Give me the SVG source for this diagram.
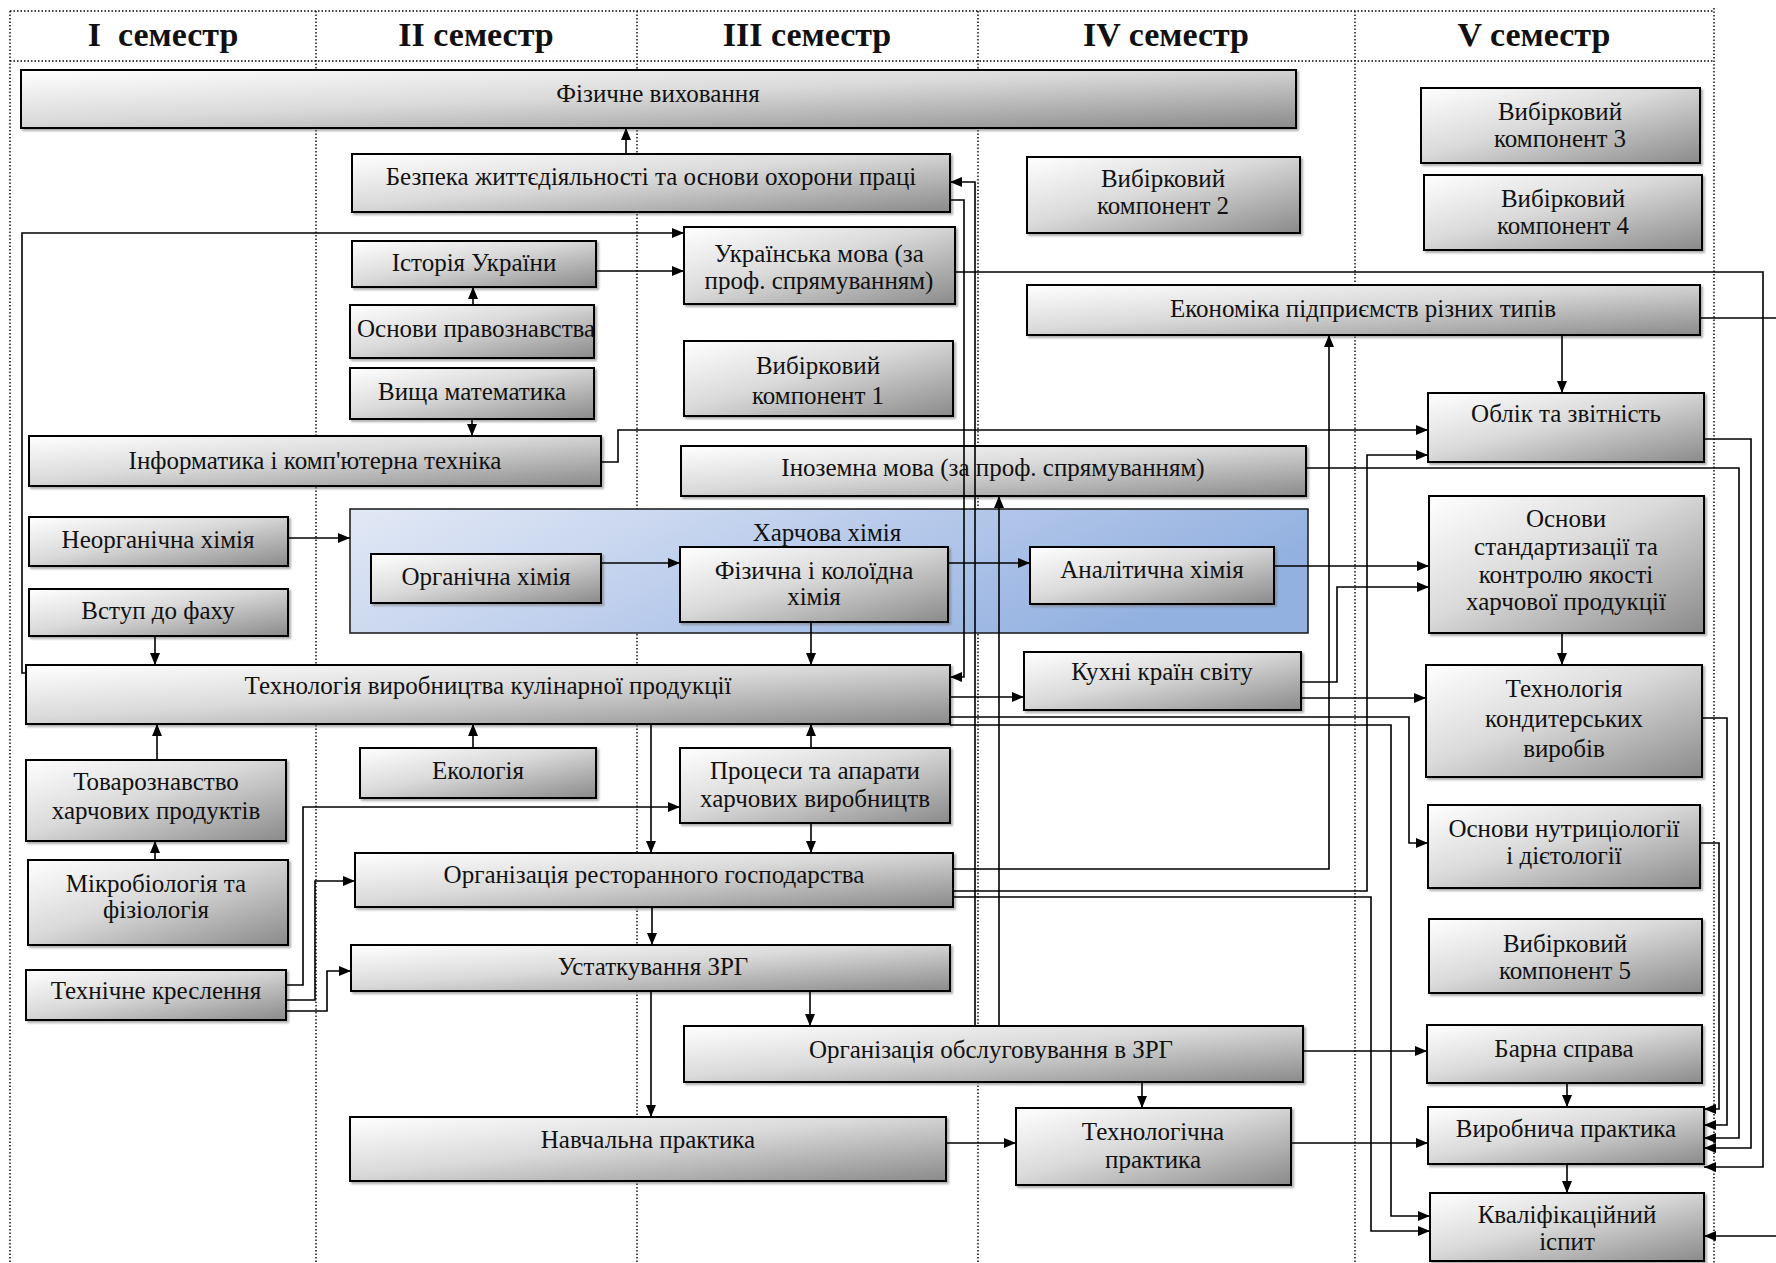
<svg xmlns="http://www.w3.org/2000/svg" width="1776" height="1263" viewBox="0 0 1776 1263">
<defs>
<linearGradient id="gr" x1="0" y1="0" x2="1" y2="1">
<stop offset="0" stop-color="#ffffff"/>
<stop offset="0.45" stop-color="#dadada"/>
<stop offset="1" stop-color="#8a8a8a"/>
</linearGradient>
<linearGradient id="gb" x1="0" y1="0" x2="1" y2="0.3">
<stop offset="0" stop-color="#e2e9f5"/>
<stop offset="0.5" stop-color="#bccdec"/>
<stop offset="1" stop-color="#93b1e0"/>
</linearGradient>
<filter id="sh" x="-5%" y="-10%" width="110%" height="130%">
<feDropShadow dx="2" dy="2" stdDeviation="1" flood-color="#777" flood-opacity="0.6"/>
</filter>
<marker id="ah" markerUnits="userSpaceOnUse" markerWidth="12" markerHeight="10" refX="12" refY="5" orient="auto">
<path d="M0,0 L12,5 L0,10 z" fill="#000"/>
</marker>
<clipPath id="clp"><rect x="350" y="305" width="244" height="53"/></clipPath>
</defs>
<style>
.g{fill:none;stroke:#000;stroke-width:1.4;stroke-dasharray:1.5 2}
.n rect{fill:url(#gr);stroke:#000;stroke-width:2;filter:url(#sh)}
.n text,.lbl{font-family:"Liberation Serif","Times New Roman",serif;font-size:25px;text-anchor:middle;fill:#111}
.h{font-family:"Liberation Serif","Times New Roman",serif;font-weight:bold;font-size:34px;text-anchor:middle;fill:#111;white-space:pre}
#connectors path{fill:none;stroke:#000;stroke-width:1.6;marker-end:url(#ah)}
</style>
<rect width="1776" height="1263" fill="#fff"/>
<g id="grid">
<path class="g" d="M10,11 H1714 M10,61 H1714 M10,11 V1263 M316,11 V1263 M637,11 V1263 M978,11 V1263 M1355,11 V1263 M1714,8 V1263"/>
<text class="h" x="163" y="46" xml:space="preserve">I  семестр</text>
<text class="h" x="476" y="46">II семестр</text>
<text class="h" x="807" y="46">III семестр</text>
<text class="h" x="1166" y="46">IV семестр</text>
<text class="h" x="1534" y="46">V семестр</text>
</g>
<g id="harch" class="grp">
<rect x="350" y="509" width="958" height="124" fill="url(#gb)" stroke="#222" stroke-width="1.6"/>
<text class="lbl" x="827" y="541">Харчова хімія</text>
</g>
<g id="fiz" class="n"><rect x="21" y="70" width="1275" height="58"/><text x="658" y="102">Фізичне виховання</text></g>
<g id="bzh" class="n"><rect x="352" y="154" width="598" height="58"/><text x="651" y="185">Безпека життєдіяльності та основи охорони праці</text></g>
<g id="ist" class="n"><rect x="352" y="241" width="244" height="46"/><text x="474" y="271">Історія України</text></g>
<g id="prav" class="n"><rect x="350" y="305" width="244" height="53"/><text x="357" y="337" style="text-anchor:start" clip-path="url(#clp)">Основи правознавства</text></g>
<g id="vysh" class="n"><rect x="350" y="368" width="244" height="51"/><text x="472" y="400">Вища математика</text></g>
<g id="ukr" class="n"><rect x="684" y="227" width="271" height="77"/><text x="819" y="262">Українська мова (за</text><text x="819" y="289">проф. спрямуванням)</text></g>
<g id="vyb1" class="n"><rect x="684" y="341" width="269" height="75"/><text x="818" y="374">Вибірковий</text><text x="818" y="404">компонент 1</text></g>
<g id="vyb2" class="n"><rect x="1027" y="157" width="273" height="76"/><text x="1163" y="187">Вибірковий</text><text x="1163" y="214">компонент 2</text></g>
<g id="vyb3" class="n"><rect x="1421" y="88" width="279" height="75"/><text x="1560" y="120">Вибірковий</text><text x="1560" y="147">компонент 3</text></g>
<g id="vyb4" class="n"><rect x="1424" y="175" width="278" height="75"/><text x="1563" y="207">Вибірковий</text><text x="1563" y="234">компонент 4</text></g>
<g id="ekon" class="n"><rect x="1027" y="285" width="673" height="50"/><text x="1363" y="317">Економіка підприємств різних типів</text></g>
<g id="oblik" class="n"><rect x="1428" y="393" width="276" height="69"/><text x="1566" y="422">Облік та звітність</text></g>
<g id="inf" class="n"><rect x="29" y="436" width="572" height="50"/><text x="315" y="469">Інформатика і комп'ютерна техніка</text></g>
<g id="inoz" class="n"><rect x="681" y="446" width="625" height="50"/><text x="993" y="476">Іноземна мова (за проф. спрямуванням)</text></g>
<g id="neorg" class="n"><rect x="29" y="517" width="259" height="49"/><text x="158" y="548">Неорганічна хімія</text></g>
<g id="org" class="n"><rect x="371" y="554" width="230" height="49"/><text x="486" y="585">Органічна хімія</text></g>
<g id="fizkol" class="n"><rect x="680" y="547" width="268" height="75"/><text x="814" y="579">Фізична і колоїдна</text><text x="814" y="605">хімія</text></g>
<g id="anal" class="n"><rect x="1030" y="547" width="244" height="57"/><text x="1152" y="578">Аналітична хімія</text></g>
<g id="vstup" class="n"><rect x="29" y="589" width="259" height="47"/><text x="158" y="619">Вступ до фаху</text></g>
<g id="techn" class="n"><rect x="26" y="665" width="924" height="59"/><text x="488" y="694">Технологія виробництва кулінарної продукції</text></g>
<g id="kuhni" class="n"><rect x="1024" y="652" width="277" height="58"/><text x="1162" y="680">Кухні країн світу</text></g>
<g id="ekol" class="n"><rect x="360" y="748" width="236" height="50"/><text x="478" y="779">Екологія</text></g>
<g id="proc" class="n"><rect x="680" y="748" width="270" height="75"/><text x="815" y="779">Процеси та апарати</text><text x="815" y="807">харчових виробництв</text></g>
<g id="tovar" class="n"><rect x="26" y="760" width="260" height="81"/><text x="156" y="790">Товарознавство</text><text x="156" y="819">харчових продуктів</text></g>
<g id="mikro" class="n"><rect x="28" y="860" width="260" height="85"/><text x="156" y="892">Мікробіологія та</text><text x="156" y="918">фізіологія</text></g>
<g id="orgrest" class="n"><rect x="355" y="853" width="598" height="54"/><text x="654" y="883">Організація ресторанного господарства</text></g>
<g id="ustat" class="n"><rect x="351" y="945" width="599" height="46"/><text x="653" y="975">Устаткування ЗРГ</text></g>
<g id="tehkr" class="n"><rect x="26" y="970" width="260" height="50"/><text x="156" y="999">Технічне креслення</text></g>
<g id="orgobs" class="n"><rect x="684" y="1026" width="619" height="56"/><text x="991" y="1058">Організація обслуговування в ЗРГ</text></g>
<g id="navch" class="n"><rect x="350" y="1117" width="596" height="64"/><text x="648" y="1148">Навчальна практика</text></g>
<g id="tehprak" class="n"><rect x="1016" y="1108" width="275" height="77"/><text x="1153" y="1140">Технологічна</text><text x="1153" y="1168">практика</text></g>
<g id="osnst" class="n"><rect x="1429" y="496" width="275" height="137"/><text x="1566" y="527">Основи</text><text x="1566" y="555">стандартизації та</text><text x="1566" y="583">контролю якості</text><text x="1566" y="610">харчової продукції</text></g>
<g id="tehkond" class="n"><rect x="1426" y="665" width="276" height="112"/><text x="1564" y="697">Технологія</text><text x="1564" y="727">кондитерських</text><text x="1564" y="757">виробів</text></g>
<g id="nutr" class="n"><rect x="1428" y="805" width="272" height="83"/><text x="1564" y="837">Основи нутриціології</text><text x="1564" y="864">і дієтології</text></g>
<g id="vyb5" class="n"><rect x="1429" y="919" width="273" height="74"/><text x="1565" y="952">Вибірковий</text><text x="1565" y="979">компонент 5</text></g>
<g id="barna" class="n"><rect x="1427" y="1025" width="275" height="58"/><text x="1564" y="1057">Барна справа</text></g>
<g id="vyrob" class="n"><rect x="1428" y="1107" width="276" height="57"/><text x="1566" y="1137">Виробнича практика</text></g>
<g id="kval" class="n"><rect x="1430" y="1193" width="274" height="68"/><text x="1567" y="1223">Кваліфікаційний</text><text x="1567" y="1250">іспит</text></g>
<g id="connectors">
<path d="M626,154 V128"/>
<path d="M473,305 V287"/>
<path d="M472,419 V436"/>
<path d="M596,271 H684"/>
<path d="M26,673 H22 V233 H684"/>
<path d="M950,200 H964 V677 H950"/>
<path d="M975,1026 V182 H950"/>
<path d="M999,1026 V496"/>
<path d="M955,272 H1763 V1167 H1704"/>
<path d="M1700,318 H1800 V1236 H1704"/>
<path d="M1562,335 V393"/>
<path d="M601,462 H618 V430 H1428"/>
<path d="M1704,439 H1751 V1148 H1704"/>
<path d="M1306,468 H1739 V1138 H1704"/>
<path d="M288,538 H350"/>
<path d="M601,563 H680"/>
<path d="M948,563 H1030"/>
<path d="M1274,566 H1429"/>
<path d="M1301,682 H1337 V587 H1429"/>
<path d="M811,622 V665"/>
<path d="M155,636 V665"/>
<path d="M950,697 H1024"/>
<path d="M1301,698 H1426"/>
<path d="M950,717 H1409 V843 H1428"/>
<path d="M950,725 H1391 V1216 H1430"/>
<path d="M1562,633 V665"/>
<path d="M1702,718 H1727 V1125 H1704"/>
<path d="M1700,843 H1719 V1109 H1704"/>
<path d="M157,760 V724"/>
<path d="M473,748 V724"/>
<path d="M811,748 V724"/>
<path d="M651,724 V853"/>
<path d="M811,823 V853"/>
<path d="M286,985 H303 V807 H680"/>
<path d="M286,1000 H315 V881 H355"/>
<path d="M286,1011 H327 V971 H351"/>
<path d="M155,860 V841"/>
<path d="M953,869 H1329 V335"/>
<path d="M953,891 H1367 V455 H1428"/>
<path d="M953,897 H1371 V1231 H1430"/>
<path d="M652,907 V945"/>
<path d="M810,991 V1026"/>
<path d="M651,991 V1117"/>
<path d="M946,1143 H1016"/>
<path d="M1142,1082 V1108"/>
<path d="M1291,1143 H1428"/>
<path d="M1303,1051 H1427"/>
<path d="M1567,1083 V1107"/>
<path d="M1567,1164 V1193"/>
</g>
</svg>
